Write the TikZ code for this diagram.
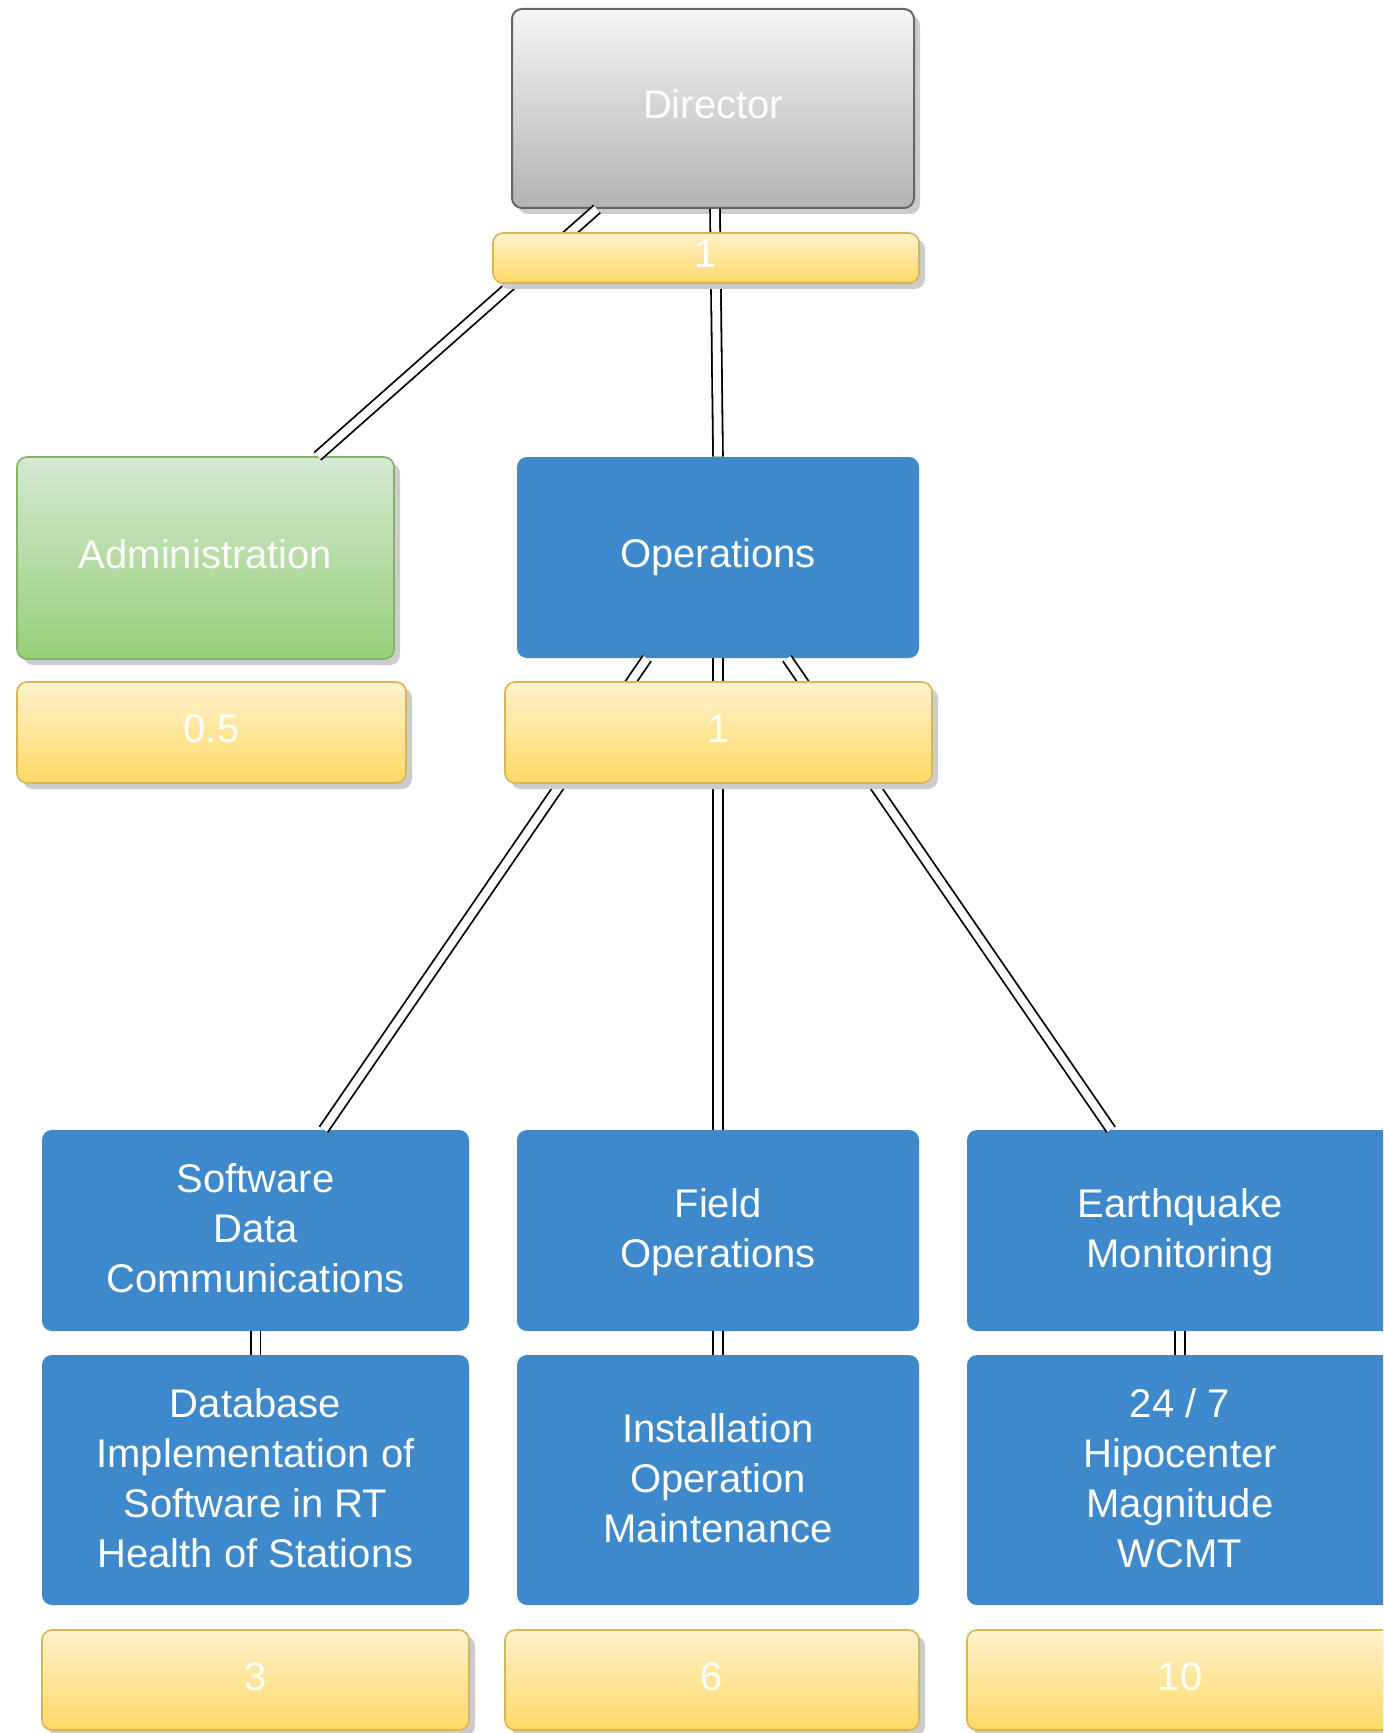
\documentclass[tikz,border=0pt]{standalone}
\usepackage{fontspec}
\setmainfont{Liberation Sans}
\usetikzlibrary{shadows}

\definecolor{opsblue}{RGB}{62,137,204}
\definecolor{numtop}{HTML}{FFF2CC}
\definecolor{numbot}{HTML}{FFD966}
\definecolor{numline}{HTML}{D6B656}
\definecolor{admtop}{HTML}{D5E8D4}
\definecolor{admbot}{HTML}{97D077}
\definecolor{admline}{HTML}{82B366}
\definecolor{dirtop}{HTML}{F5F5F5}
\definecolor{dirbot}{HTML}{B3B3B3}
\definecolor{dirline}{HTML}{666666}

\tikzset{
	unit/.style={rectangle, rounded corners=5pt, align=center, inner sep=0pt, text=white, font=\fontsize{20}{25}\selectfont,
		execute at begin node=\strut, execute at end node=\strut},
	lines/.style={text depth=2.2pt},
	flat/.style={drop shadow={shadow xshift=3pt, shadow yshift=-3pt, fill=black!20, opacity=1}},
	opsbox/.style={unit, fill=opsblue},
	dirbox/.style={unit, flat, top color=dirtop, bottom color=dirbot, draw=dirline, line width=1pt},
	admbox/.style={unit, flat, top color=admtop, bottom color=admbot, draw=admline, line width=0.8pt},
	numbox/.style={unit, flat, top color=numtop, bottom color=numbot, draw=numline, line width=0.8pt},
	link/.style={double, double distance=4pt, line width=0.9pt},
}

\begin{document}
\begin{tikzpicture}[x=0.5pt, y=-0.5pt]
			%%%%% START %%%%%
			
			\useasboundingbox (0, 0) rectangle (1383, 1733);
			\clip (0, 0) rectangle (1383, 1733);
			
			\node[dirbox, minimum width=201pt, minimum height=99.5pt] (dir) at (713, 108.5) {Director};
			\node[admbox, minimum width=188.5pt, minimum height=101pt] (adm) at (205.5, 558) {Administration};
			\node[opsbox, minimum width=201pt, minimum height=100.5pt] (ops) at (718, 557.5) {Operations};
			
			\node[opsbox, lines, minimum width=213.5pt, minimum height=100.5pt] (sw) at (255.5, 1230.5) {Software\\Data\\Communications};
			\node[opsbox, lines, minimum width=201pt, minimum height=100.5pt] (fld) at (718, 1230.5) {Field\\Operations};
			\node[opsbox, lines, minimum width=213pt, minimum height=100.5pt] (eq) at (1180, 1230.5) {Earthquake\\Monitoring};
			
			\node[opsbox, lines, minimum width=213.5pt, minimum height=125pt] (db) at (255.5, 1480) {Database\\Implementation of\\Software in RT\\Health of Stations};
			\node[opsbox, lines, minimum width=201pt, minimum height=125pt] (ins) at (718, 1480) {Installation\\Operation\\Maintenance};
			\node[opsbox, lines, minimum width=213pt, minimum height=125pt] (hyp) at (1180, 1480) {24 / 7\\Hipocenter\\Magnitude\\WCMT};
			
			\draw[link] ([xshift=-58pt]dir.south) -- ([xshift=56pt]adm.north);
			\draw[link] ([xshift=1pt]dir.south) -- (ops.north);
			\draw[link] ([xshift=-35.5pt]ops.south) -- ([xshift=34pt]sw.north);
			\draw[link] (ops.south) -- (fld.north);
			\draw[link] ([xshift=34.5pt]ops.south) -- ([xshift=-34.5pt]eq.north);
			\draw[link] (sw.south) -- (db.north);
			\draw[link] (fld.south) -- (ins.north);
			\draw[link] (eq.south) -- (hyp.north);
			
			\node[numbox, minimum width=213pt, minimum height=25pt] (dirn) at (706, 258) {1};
			\node[numbox, minimum width=194.5pt, minimum height=50.5pt] (admn) at (211.5, 732.5) {0.5};
			\node[numbox, minimum width=213.5pt, minimum height=50.5pt] (opsn) at (718.5, 732.5) {1};
			\node[numbox, minimum width=213.5pt, minimum height=50pt] (swn) at (255.5, 1680) {3};
			\node[numbox, minimum width=207pt, minimum height=50pt] (fldn) at (712, 1680) {6};
			\node[numbox, minimum width=213pt, minimum height=50pt] (eqn) at (1180, 1680) {10};
			
			%%%%% END %%%%%
\end{tikzpicture}
\end{document}
